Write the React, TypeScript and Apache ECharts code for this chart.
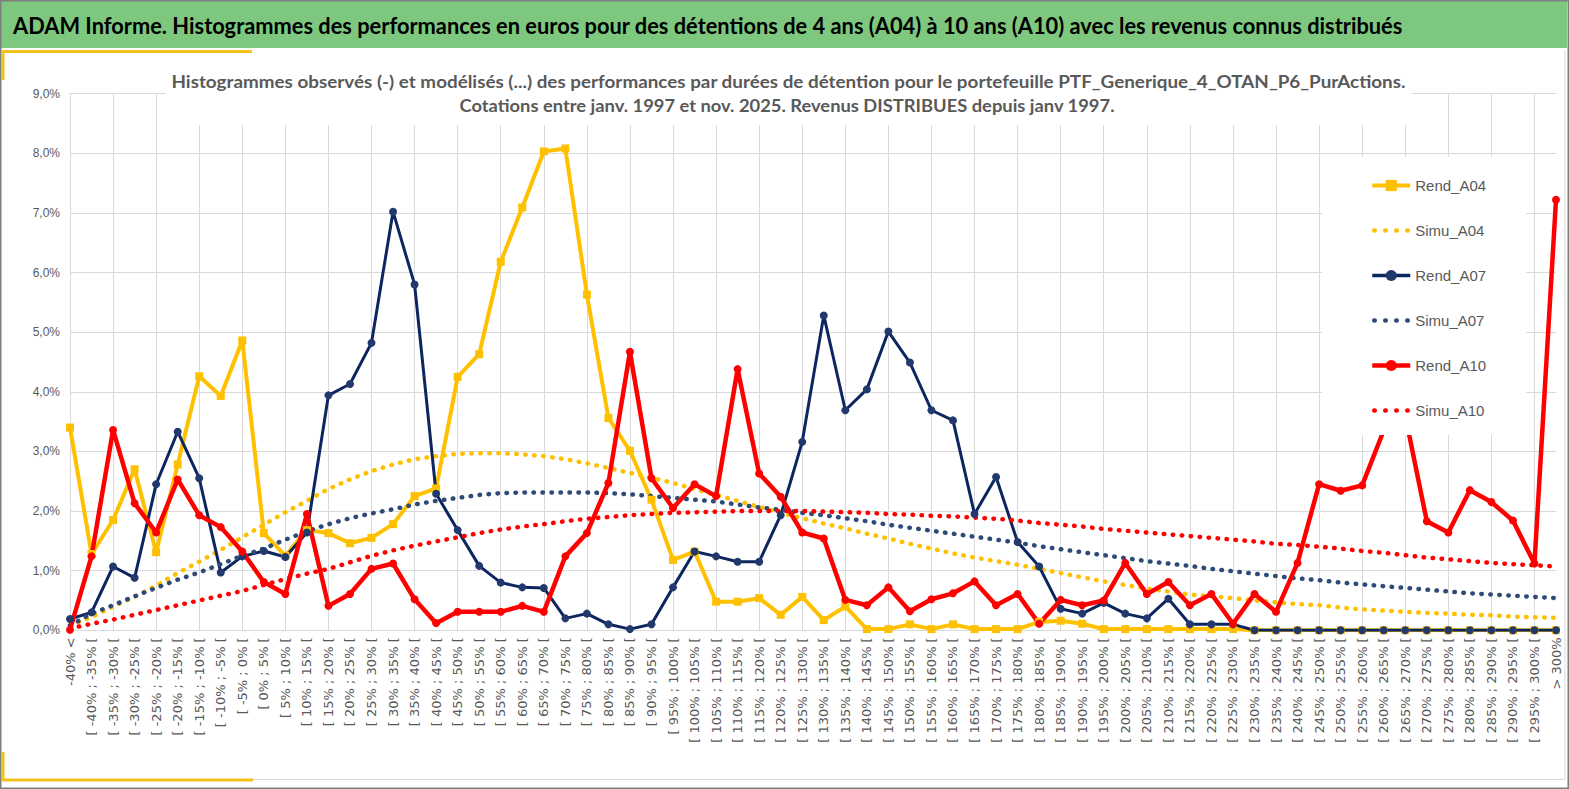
import React, { useEffect, useRef } from "react";
import * as echarts from "echarts";

const headerTitle =
  "ADAM Informe. Histogrammes des performances en euros pour des détentions de 4 ans (A04) à 10 ans (A10) avec les revenus connus distribués";
const chartTitle1 =
  "Histogrammes observés (-) et modélisés (...) des performances par durées de détention pour le portefeuille PTF_Generique_4_OTAN_P6_PurActions.";
const chartTitle2 =
  "Cotations entre janv. 1997 et nov. 2025. Revenus DISTRIBUES depuis janv 1997.";

const categories = [
  "-40% <",
  "[ -40% ; -35% [", "[ -35% ; -30% [", "[ -30% ; -25% [", "[ -25% ; -20% [", "[ -20% ; -15% [",
  "[ -15% ; -10% [", "[ -10% ; -5% [", "[ -5% ; 0% [", "[ 0% ; 5% [", "[ 5% ; 10% [",
  "[ 10% ; 15% [", "[ 15% ; 20% [", "[ 20% ; 25% [", "[ 25% ; 30% [", "[ 30% ; 35% [",
  "[ 35% ; 40% [", "[ 40% ; 45% [", "[ 45% ; 50% [", "[ 50% ; 55% [", "[ 55% ; 60% [",
  "[ 60% ; 65% [", "[ 65% ; 70% [", "[ 70% ; 75% [", "[ 75% ; 80% [", "[ 80% ; 85% [",
  "[ 85% ; 90% [", "[ 90% ; 95% [", "[ 95% ; 100% [", "[ 100% ; 105% [", "[ 105% ; 110% [",
  "[ 110% ; 115% [", "[ 115% ; 120% [", "[ 120% ; 125% [", "[ 125% ; 130% [", "[ 130% ; 135% [",
  "[ 135% ; 140% [", "[ 140% ; 145% [", "[ 145% ; 150% [", "[ 150% ; 155% [", "[ 155% ; 160% [",
  "[ 160% ; 165% [", "[ 165% ; 170% [", "[ 170% ; 175% [", "[ 175% ; 180% [", "[ 180% ; 185% [",
  "[ 185% ; 190% [", "[ 190% ; 195% [", "[ 195% ; 200% [", "[ 200% ; 205% [", "[ 205% ; 210% [",
  "[ 210% ; 215% [", "[ 215% ; 220% [", "[ 220% ; 225% [", "[ 225% ; 230% [", "[ 230% ; 235% [",
  "[ 235% ; 240% [", "[ 240% ; 245% [", "[ 245% ; 250% [", "[ 250% ; 255% [", "[ 255% ; 260% [",
  "[ 260% ; 265% [", "[ 265% ; 270% [", "[ 270% ; 275% [", "[ 275% ; 280% [", "[ 280% ; 285% [",
  "[ 285% ; 290% [", "[ 290% ; 295% [", "[ 295% ; 300% [",
  "> 300%",
];

// values in percent
const rendA04 = [
  3.40, 1.28, 1.85, 2.70, 1.31, 2.78, 4.26, 3.93, 4.86, 1.63,
  1.25, 1.68, 1.63, 1.46, 1.55, 1.78, 2.25, 2.38, 4.25, 4.63,
  6.18, 7.09, 8.03, 8.08, 5.63, 3.56, 3.01, 2.19, 1.18, 1.32,
  0.48, 0.48, 0.54, 0.26, 0.56, 0.17, 0.40, 0.02, 0.02, 0.10,
  0.02, 0.10, 0.02, 0.02, 0.02, 0.14, 0.16, 0.11, 0.02, 0.02,
  0.02, 0.02, 0.02, 0.02, 0.02, 0.00, 0.00, 0.00, 0.00, 0.00,
  0.00, 0.00, 0.00, 0.00, 0.00, 0.00, 0.00, 0.00, 0.00, 0.00,
];
const simuA04 = [
  0.08, 0.22, 0.40, 0.56, 0.75, 0.96, 1.15, 1.35, 1.56, 1.77,
  1.98, 2.17, 2.37, 2.53, 2.67, 2.78, 2.87, 2.92, 2.96, 2.97,
  2.97, 2.95, 2.92, 2.87, 2.80, 2.72, 2.64, 2.56, 2.47, 2.37,
  2.27, 2.17, 2.07, 1.97, 1.88, 1.79, 1.71, 1.62, 1.54, 1.45,
  1.37, 1.29, 1.22, 1.16, 1.10, 1.03, 0.96, 0.89, 0.82, 0.76,
  0.70, 0.65, 0.60, 0.57, 0.54, 0.50, 0.47, 0.44, 0.42, 0.38,
  0.35, 0.33, 0.31, 0.29, 0.28, 0.26, 0.25, 0.23, 0.22, 0.21,
];
const rendA07 = [
  0.19, 0.30, 1.07, 0.88, 2.45, 3.33, 2.55, 0.97, 1.24, 1.33,
  1.23, 1.64, 3.94, 4.13, 4.82, 7.02, 5.80, 2.29, 1.68, 1.08,
  0.80, 0.72, 0.71, 0.20, 0.28, 0.10, 0.02, 0.10, 0.72, 1.32,
  1.24, 1.15, 1.15, 1.93, 3.16, 5.28, 3.69, 4.04, 5.01, 4.49,
  3.69, 3.52, 1.95, 2.57, 1.48, 1.07, 0.36, 0.28, 0.46, 0.28,
  0.20, 0.53, 0.10, 0.10, 0.10, 0.00, 0.00, 0.00, 0.00, 0.00,
  0.00, 0.00, 0.00, 0.00, 0.00, 0.00, 0.00, 0.00, 0.00, 0.00,
];
const simuA07 = [
  0.08, 0.28, 0.42, 0.57, 0.71, 0.85, 0.97, 1.11, 1.25, 1.37,
  1.52, 1.66, 1.78, 1.88, 1.96, 2.03, 2.11, 2.17, 2.22, 2.27,
  2.30, 2.31, 2.31, 2.31, 2.31, 2.30, 2.28, 2.25, 2.22, 2.19,
  2.16, 2.11, 2.06, 2.02, 1.97, 1.93, 1.88, 1.83, 1.77, 1.72,
  1.67, 1.62, 1.57, 1.52, 1.47, 1.41, 1.36, 1.31, 1.26, 1.21,
  1.16, 1.12, 1.08, 1.03, 0.99, 0.95, 0.91, 0.87, 0.84, 0.80,
  0.77, 0.74, 0.71, 0.68, 0.65, 0.62, 0.60, 0.58, 0.56, 0.54,
];
const rendA10 = [
  0.01, 1.24, 3.36, 2.13, 1.64, 2.53, 1.93, 1.73, 1.32, 0.81,
  0.61, 1.95, 0.41, 0.61, 1.03, 1.12, 0.52, 0.12, 0.31, 0.31,
  0.31, 0.41, 0.31, 1.24, 1.63, 2.47, 4.67, 2.55, 2.05, 2.45,
  2.25, 4.38, 2.63, 2.24, 1.64, 1.54, 0.51, 0.42, 0.72, 0.32,
  0.52, 0.62, 0.82, 0.42, 0.61, 0.11, 0.51, 0.42, 0.50, 1.13,
  0.61, 0.81, 0.42, 0.61, 0.11, 0.61, 0.31, 1.13, 2.45, 2.34,
  2.43, 3.35, 3.60, 1.83, 1.64, 2.35, 2.15, 1.84, 1.12, 7.22,
];
const simuA10 = [
  0.03, 0.11, 0.18, 0.26, 0.34, 0.42, 0.50, 0.58, 0.66, 0.76,
  0.86, 0.95, 1.03, 1.14, 1.25, 1.34, 1.42, 1.49, 1.56, 1.63,
  1.69, 1.74, 1.78, 1.83, 1.87, 1.90, 1.93, 1.95, 1.97, 1.98,
  1.99, 2.00, 2.00, 2.00, 2.00, 1.99, 1.98, 1.97, 1.95, 1.94,
  1.92, 1.91, 1.89, 1.87, 1.84, 1.80, 1.77, 1.74, 1.70, 1.67,
  1.64, 1.61, 1.58, 1.55, 1.52, 1.49, 1.45, 1.43, 1.40, 1.37,
  1.33, 1.30, 1.26, 1.22, 1.19, 1.16, 1.13, 1.11, 1.09, 1.07,
];

const legendNames = ["Rend_A04", "Simu_A04", "Rend_A07", "Simu_A07", "Rend_A10", "Simu_A10"];

const YELLOW = "#FFC000";
const NAVY = "#0E2660";
const NAVY_MARK = "#22396E";
const NAVY_DOT = "#2E4B78";
const RED = "#FF0000";
const GRID = "#D9D9D9";
const GRAY_TEXT = "#595959";

function measure(text: string, font: string): number {
  const c = document.createElement("canvas").getContext("2d");
  if (!c) return 1;
  c.font = font;
  return c.measureText(text).width || 1;
}

export default function App() {
  const ref = useRef<HTMLDivElement>(null);

  useEffect(() => {
    document.body.style.margin = "0";
    if (!ref.current) return;
    const chart = echarts.init(ref.current, null, { renderer: "svg" });

    const hFont = "bold 22px Lato";
    const hScale = 1390 / measure(headerTitle, hFont);
    const tFont = "bold 17px Lato";
    const t1Scale = 1235 / measure(chartTitle1, tFont);
    const t2Scale = 656 / measure(chartTitle2, tFont);

    const dotted = (color: string) => ({
      color,
      width: 4.5,
      type: [0.5, 8.5] as number[],
      cap: "round" as const,
    });

    const legendWidths: Record<string, number> = {
      Rend_A04: 4,
      Rend_A07: 3.5,
      Rend_A10: 4.5,
    };
    const legendData = legendNames.map((n) =>
      n.startsWith("Simu")
        ? {
            name: n,
            itemStyle: { opacity: 0, borderWidth: 0 },
            lineStyle: { width: 4.5, type: [0.5, 10.5], cap: "round", dashOffset: -2 },
          }
        : { name: n, lineStyle: { width: legendWidths[n] } }
    );

    const option: any = {
      animation: false,
      backgroundColor: "#ffffff",
      grid: { left: 70, right: 13, top: 93.6, bottom: 158.7 },
      xAxis: {
        type: "category",
        data: categories,
        boundaryGap: false,
        axisLine: { show: true, lineStyle: { color: GRID, width: 1 } },
        axisTick: { show: false },
        axisLabel: {
          interval: 0,
          rotate: 90,
          fontSize: 13,
          fontFamily: "DejaVu Sans",
          color: GRAY_TEXT,
          margin: 7,
        },
        splitLine: {
          show: true,
          interval: (i: number) => i % 2 === 0,
          lineStyle: { color: GRID, width: 1 },
        },
      },
      yAxis: {
        type: "value",
        min: 0,
        max: 9,
        interval: 1,
        axisLine: { show: false },
        axisTick: { show: false },
        axisLabel: {
          formatter: (v: number) => v.toFixed(1).replace(".", ",") + "%",
          fontSize: 12,
          fontFamily: "Liberation Sans",
          color: GRAY_TEXT,
          margin: 10,
        },
        splitLine: { lineStyle: { color: GRID, width: 1 } },
      },
      legend: {
        orient: "vertical",
        left: 1322,
        top: 157,
        z: 10,
        padding: [21, 40, 17, 48],
        itemGap: 30,
        itemWidth: 38,
        itemHeight: 14,
        backgroundColor: "#ffffff",
        textStyle: { fontSize: 15, color: GRAY_TEXT, fontFamily: "Liberation Sans" },
        data: legendData,
      },
      series: [
        {
          name: "Rend_A04",
          type: "line",
          z: 2,
          data: rendA04,
          symbol: "rect",
          symbolSize: 8,
          lineStyle: { color: YELLOW, width: 4 },
          itemStyle: { color: YELLOW },
        },
        {
          name: "Simu_A04",
          type: "line",
          z: 2,
          data: simuA04,
          symbol: "none",
          lineStyle: dotted(YELLOW),
          itemStyle: { color: YELLOW },
        },
        {
          name: "Rend_A07",
          type: "line",
          z: 2,
          data: rendA07,
          symbol: "circle",
          symbolSize: 8,
          lineStyle: { color: NAVY, width: 3 },
          itemStyle: { color: NAVY_MARK },
        },
        {
          name: "Simu_A07",
          type: "line",
          z: 2,
          data: simuA07,
          symbol: "none",
          lineStyle: dotted(NAVY_DOT),
          itemStyle: { color: NAVY_DOT },
        },
        {
          name: "Rend_A10",
          type: "line",
          z: 2,
          data: rendA10,
          symbol: "circle",
          symbolSize: 8,
          lineStyle: { color: RED, width: 4.5 },
          itemStyle: { color: RED },
        },
        {
          name: "Simu_A10",
          type: "line",
          z: 2,
          data: simuA10,
          symbol: "none",
          lineStyle: dotted(RED),
          itemStyle: { color: RED },
        },
      ],
      graphic: [
        {
          type: "rect",
          z: 50,
          shape: { x: 1, y: 1, width: 1566, height: 47 },
          style: { fill: "#7DC87E" },
        },
        {
          type: "text",
          z: 51,
          x: 13,
          y: 25,
          scaleX: hScale,
          style: {
            text: headerTitle,
            x: 0,
            y: 0,
            font: hFont,
            fill: "#000000",
            align: "left",
            verticalAlign: "middle",
            textAlign: "left",
            textVerticalAlign: "middle",
          },
        },
        {
          type: "polyline",
          z: 50,
          shape: { points: [[253, 779.5], [1565, 779.5], [1565, 50]] },
          style: { fill: "none", stroke: "#D9D9D9", lineWidth: 1 },
        },
        {
          type: "polyline",
          z: 51,
          shape: { points: [[3, 80], [3, 51.5], [252, 51.5]] },
          style: { fill: "none", stroke: "#F5C21B", lineWidth: 3 },
        },
        {
          type: "polyline",
          z: 51,
          shape: { points: [[3, 752], [3, 780], [253, 780]] },
          style: { fill: "none", stroke: "#F5C21B", lineWidth: 3 },
        },
        {
          type: "rect",
          z: 50,
          shape: { x: 0.75, y: 0.75, width: 1567.5, height: 787.5 },
          style: { fill: "none", stroke: "#7F7F7F", lineWidth: 1.5 },
        },
        {
          type: "rect",
          z: 50,
          shape: { x: 166, y: 58, width: 1246, height: 67 },
          style: { fill: "#ffffff" },
        },
        {
          type: "text",
          z: 51,
          x: 788.5,
          y: 81,
          scaleX: t1Scale,
          style: {
            text: chartTitle1,
            x: 0,
            y: 0,
            font: tFont,
            fill: GRAY_TEXT,
            align: "center",
            verticalAlign: "middle",
            textAlign: "center",
            textVerticalAlign: "middle",
          },
        },
        {
          type: "text",
          z: 51,
          x: 787,
          y: 106,
          scaleX: t2Scale,
          style: {
            text: chartTitle2,
            x: 0,
            y: 0,
            font: tFont,
            fill: GRAY_TEXT,
            align: "center",
            verticalAlign: "middle",
            textAlign: "center",
            textVerticalAlign: "middle",
          },
        },
      ],
    };

    chart.setOption(option);
    return () => chart.dispose();
  }, []);

  return (
    <div
      ref={ref}
      style={{ position: "fixed", left: 0, top: 0, width: 1569, height: 789, background: "#fff" }}
    />
  );
}
